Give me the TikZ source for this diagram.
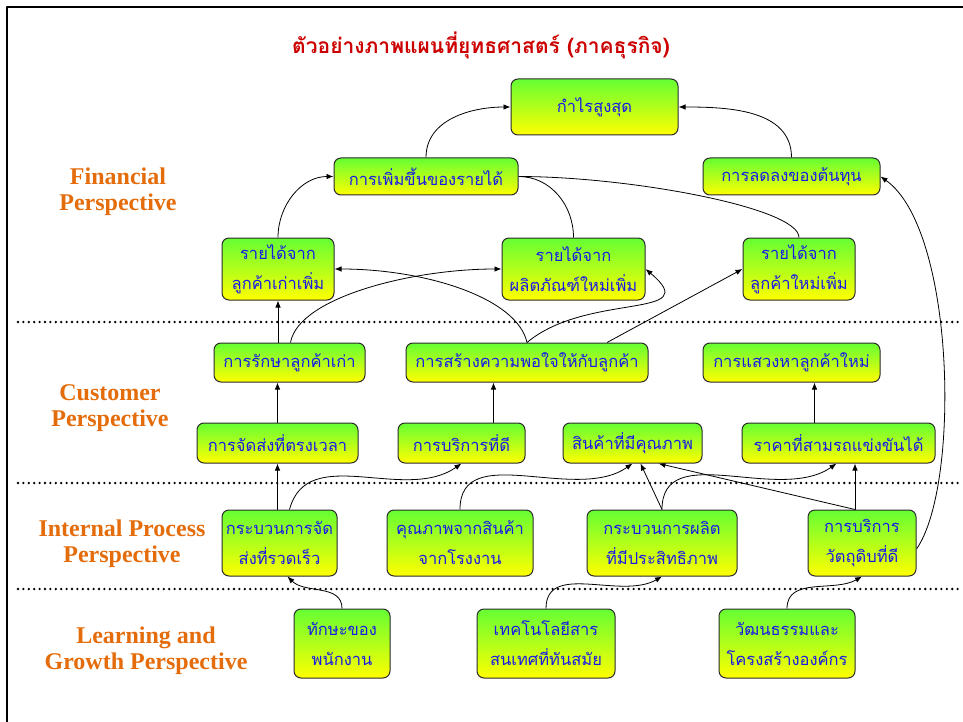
\documentclass[tikz,border=0pt]{standalone}
\usepackage{fontspec}
\setmainfont{Liberation Serif}
\newfontfamily\thaifont[Script=Thai]{Loma}
\usetikzlibrary{arrows.meta,calc,positioning}
\definecolor{bscGreen}{HTML}{66FF33}
\definecolor{bscYellow}{HTML}{FFFF00}
\definecolor{bscBlue}{HTML}{1A1AE6}
\definecolor{bscRed}{HTML}{CC0000}
\definecolor{bscOrange}{HTML}{E46C0A}
\definecolor{bscEdge}{HTML}{2B2B2B}
\pgfdeclarelayer{bg}
\pgfsetlayers{bg,main}

\begin{document}
\begin{tikzpicture}[x=1pt,y=-1pt,>={Latex[length=7pt,width=5.5pt]},line join=round]
\useasboundingbox (0,0) rectangle (963,722);
\begin{pgfonlayer}{bg}
\path[fill=white] (0,0) rectangle (963,722);
\end{pgfonlayer}
\draw[line width=2.6pt] (7,722) -- (7,7) -- (963,7);
\tikzset{box/.style={draw=bscEdge,line width=1pt,rounded corners=7pt,top color=bscGreen,bottom color=bscYellow,text=bscBlue,align=center,inner sep=2pt,font=\thaifont\fontsize{16.5}{30}\selectfont},persp/.style={text=bscOrange,align=center,font=\bfseries\fontsize{24}{26}\selectfont},sepline/.style={draw=black,line width=2.6pt,line cap=round,dash pattern=on 0pt off 5.4pt},link/.style={draw=black,line width=0.8pt}}
\node[text=bscRed,font=\thaifont\bfseries\fontsize{21}{24}\selectfont] (title) at (481,45) {ตัวอย่างภาพแผนที่ยุทธศาสตร์ (ภาคธุรกิจ)};
% perspectives
\node[persp] (lblfin) at (118,192) {Financial\\Perspective};
\node[persp] (lblcus) at (110,408) {Customer\\Perspective};
\node[persp] (lblint) at (122,544) {Internal Process\\Perspective};
\node[persp] (lbllrn) at (146,651) {Learning and\\Growth Perspective};
\draw[sepline] (18,322) -- (960,322);
\draw[sepline] (18,483) -- (960,483);
\draw[sepline] (18,589) -- (960,589);
% financial
\node[box,minimum width=167pt,minimum height=56pt] (profit) at (594.5,107) {กำไรสูงสุด};
\node[box,minimum width=184pt,minimum height=37pt] (revinc) at (426,176.5) {การเพิ่มขึ้นของรายได้};
\node[box,minimum width=177pt,minimum height=37pt] (costdown) at (791.5,176.5) {การลดลงของต้นทุน};
\node[box,minimum width=112pt,minimum height=62pt] (revold) at (278,269) {รายได้จาก\\ลูกค้าเก่าเพิ่ม};
\node[box,minimum width=143pt,minimum height=62pt] (revprod) at (573.5,269) {รายได้จาก\\ผลิตภัณฑ์ใหม่เพิ่ม};
\node[box,minimum width=112pt,minimum height=62pt] (revnew) at (799,269) {รายได้จาก\\ลูกค้าใหม่เพิ่ม};
% customer
\node[box,minimum width=151pt,minimum height=39pt] (keep) at (289.5,362.5) {การรักษาลูกค้าเก่า};
\node[box,minimum width=242pt,minimum height=39pt] (satisfy) at (527,362.5) {การสร้างความพอใจให้กับลูกค้า};
\node[box,minimum width=177pt,minimum height=39pt] (seek) at (791.5,362.5) {การแสวงหาลูกค้าใหม่};
\node[box,minimum width=161pt,minimum height=40pt] (ontime) at (277.5,443) {การจัดส่งที่ตรงเวลา};
\node[box,minimum width=127pt,minimum height=40pt] (service) at (461.5,443) {การบริการที่ดี};
\node[box,minimum width=139pt,minimum height=40pt] (quality) at (632.5,443) {สินค้าที่มีคุณภาพ};
\node[box,minimum width=193pt,minimum height=40pt] (price) at (838.5,443) {ราคาที่สามรถแข่งขันได้};
% internal process
\node[box,minimum width=115pt,minimum height=66pt] (fastdel) at (279.5,543) {กระบวนการจัด\\ส่งที่รวดเร็ว};
\node[box,minimum width=146pt,minimum height=66pt] (factory) at (460,543) {คุณภาพจากสินค้า\\จากโรงงาน};
\node[box,minimum width=150pt,minimum height=66pt] (prodproc) at (662,543) {กระบวนการผลิต\\ที่มีประสิทธิภาพ};
\node[box,minimum width=108pt,minimum height=66pt] (rawmat) at (862,543) {การบริการ\\วัตถุดิบที่ดี};
% learning and growth
\node[box,minimum width=96pt,minimum height=69pt] (skill) at (342,643.5) {ทักษะของ\\พนักงาน};
\node[box,minimum width=138pt,minimum height=69pt] (infotech) at (546,643.5) {เทคโนโลยีสาร\\สนเทศที่ทันสมัย};
\node[box,minimum width=136pt,minimum height=69pt] (culture) at (787,643.5) {วัฒนธรรมและ\\โครงสร้างองค์กร};
% links, behind the boxes
\begin{pgfonlayer}{bg}
\draw[link,->] (revinc.north) to[out=90,in=180] (profit.west);
\draw[link,->] (costdown.north) to[out=90,in=0] (profit.east);
\draw[link,->] (revold.north) to[out=90,in=180] (revinc.west);
\draw[link] (revprod.north) to[out=90,in=0] (revinc.east);
\draw[link] (revnew.north) .. controls +(0,-30) and +(110,0) .. (revinc.east);
\draw[link,->] (keep.north -| revold.south) -- (revold.south);
\draw[link,->] ([xshift=1pt]keep.north) .. controls +(8,-45) and +(-90,0) .. (revprod.west);
\draw[link,->] (satisfy.north) .. controls +(-10,-45) and +(90,0) .. (revold.east);
\draw[link,->] (satisfy.north) to[out=40,in=-40,looseness=1.45] (revprod.east);
\draw[link,->] ([xshift=80pt]satisfy.north) -- (revnew.west);
\draw[link,->] (ontime.north) -- (ontime.north |- keep.south);
\draw[link,->] ([xshift=32pt]service.north) -- ([xshift=32pt]service.north |- satisfy.south);
\draw[link,->] ([xshift=-24pt]price.north) -- ([xshift=-24pt]price.north |- seek.south);
\draw[link,->] (fastdel.north -| ontime.south) -- (ontime.south);
\draw[link,->] ([xshift=10pt]fastdel.north) to[out=75,in=215] (service.south);
\draw[link,->] (factory.north) to[out=90,in=215] (quality.south);
\draw[link,->] (prodproc.north) -- ([xshift=8pt]quality.south);
\draw[link,->] (prodproc.north) to[out=90,in=215] ([xshift=-2pt]price.south);
\draw[link,->] ([xshift=-7pt]rawmat.north) -- ([xshift=-7pt]rawmat.north |- price.south);
\draw[link,->] ([xshift=-7pt]rawmat.north) -- ([xshift=26pt]quality.south);
\draw[link,->] ([yshift=-6pt]rawmat.east) .. controls +(44,-63) and +(75,53) .. (costdown.east);
\draw[link,->] (skill.north) to[out=90,in=-45] ([xshift=8pt]fastdel.south);
\draw[link,->] (infotech.north) to[out=90,in=210] (prodproc.south);
\draw[link,->] (culture.north) to[out=90,in=210] (rawmat.south);
\end{pgfonlayer}
\end{tikzpicture}
\end{document}
